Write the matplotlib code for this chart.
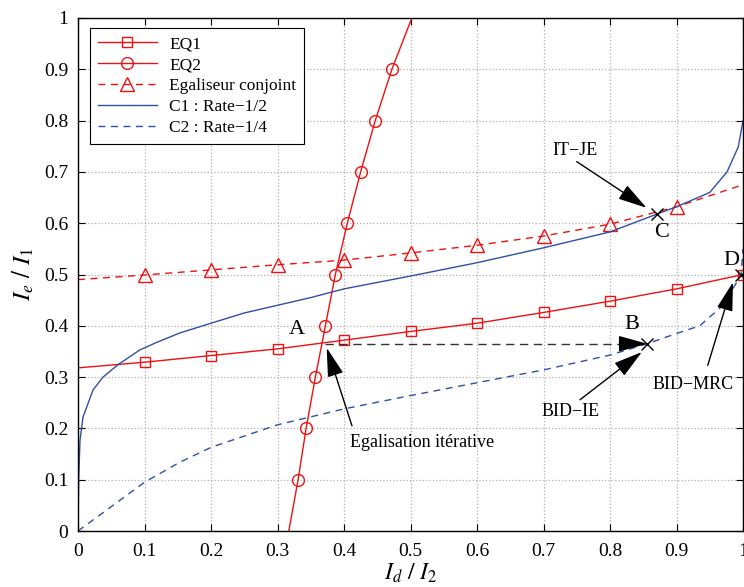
import matplotlib
matplotlib.use("Agg")
import matplotlib.pyplot as plt
import numpy as np

plt.rcParams['font.family'] = ['Liberation Serif', 'DejaVu Serif']
plt.rcParams['mathtext.fontset'] = 'stix'

# EQ1 (squares)
eq1_x = [0.0, 0.1, 0.2, 0.3, 0.4, 0.5, 0.6, 0.7, 0.8, 0.9, 1.0]
eq1_y = [0.318, 0.329, 0.342, 0.355, 0.372, 0.389, 0.405, 0.426, 0.448, 0.472, 0.500]

# EQ2 (circles)
eq2_x = [0.317, 0.331, 0.343, 0.357, 0.372, 0.387, 0.405, 0.425, 0.447, 0.472, 0.502]
eq2_y = [0.0, 0.1, 0.2, 0.3, 0.4, 0.5, 0.6, 0.7, 0.8, 0.9, 1.0]

# Egaliseur conjoint (triangles)
ej_x = [0.0, 0.1, 0.2, 0.3, 0.4, 0.5, 0.6, 0.7, 0.8, 0.9, 1.0]
ej_y = [0.490, 0.499, 0.509, 0.519, 0.528, 0.542, 0.557, 0.575, 0.598, 0.632, 0.675]

# C1 : Rate-1/2
c1_x = [0.0, 0.001, 0.003, 0.0075, 0.0226, 0.0376, 0.06, 0.093, 0.119, 0.153, 0.2, 0.25,
        0.3, 0.35, 0.4, 0.5, 0.6, 0.7, 0.8, 0.871, 0.9, 0.95, 0.976, 0.993, 1.0]
c1_y = [0.0, 0.10, 0.177, 0.222, 0.275, 0.300, 0.324, 0.353, 0.368, 0.386, 0.405, 0.425,
        0.440, 0.455, 0.472, 0.497, 0.523, 0.552, 0.583, 0.618, 0.632, 0.660, 0.700, 0.749, 0.80]

# C2 : Rate-1/4
c2_x = [0.0, 0.1, 0.153, 0.2, 0.3, 0.4, 0.5, 0.6, 0.7, 0.8, 0.856, 0.9, 0.935, 0.97, 0.997, 1.0]
c2_y = [0.0, 0.095, 0.134, 0.163, 0.207, 0.238, 0.264, 0.289, 0.314, 0.343, 0.365, 0.385, 0.400, 0.440, 0.499, 0.55]

# Points
pt_A = (0.372, 0.365)
pt_B = (0.856, 0.365)
pt_C = (0.871, 0.618)
pt_D = (0.997, 0.499)

red = '#f01010'
blue = '#2f4fa8'

fig = plt.figure(figsize=(7.44, 5.87), dpi=100)
ax = fig.add_axes([78/744, 1-531/587, 665/744, 513/587])

ax.plot(eq1_x, eq1_y, '-', color=red, lw=1.0, marker='s', ms=7, mfc='none', mec=red,
        mew=1.0, markevery=list(range(1, 11)), label='EQ1')
ax.plot(eq2_x, eq2_y, '-', color=red, lw=1.0, marker='o', ms=8.5, mfc='none', mec=red,
        mew=1.0, markevery=list(range(1, 10)), label='EQ2')
ax.plot(ej_x, ej_y, '--', color=red, lw=1.0, marker='^', ms=10, mfc='none', mec=red,
        mew=1.0, markevery=list(range(1, 10)), dashes=(5, 4), label='Egaliseur conjoint')
ax.plot(c1_x, c1_y, '-', color=blue, lw=1.0, label='C1 : Rate\u22121/2')
ax.plot(c2_x, c2_y, '--', color=blue, lw=1.0, dashes=(5, 4), label='C2 : Rate\u22121/4')

# dashed horizontal arrow A -> B
ax.plot([pt_A[0], pt_B[0] - 0.03], [pt_A[1], pt_B[1]], '--', color='#333333', lw=1.0, dashes=(6, 4))
ax.annotate('', xy=pt_B, xytext=(pt_B[0] - 0.04, pt_B[1]),
            arrowprops=dict(arrowstyle='-|>,head_length=0.9,head_width=0.25', color='black',
                            lw=1.0, mutation_scale=20, shrinkA=0, shrinkB=0))

for p in (pt_B, pt_C, pt_D):
    ax.plot(p[0], p[1], 'x', color='black', ms=8, mew=1.0)

ax.text(0.329, 0.392, 'A', fontsize=16, ha='center', va='center')
ax.text(0.833, 0.402, 'B', fontsize=16, ha='center', va='center')
ax.text(0.878, 0.582, 'C', fontsize=16, ha='center', va='center')
ax.text(0.983, 0.528, 'D', fontsize=16, ha='center', va='center')

arrow = dict(arrowstyle='-|>,head_length=0.9,head_width=0.25', color='black', lw=1.0,
             mutation_scale=20, shrinkA=0, shrinkB=0)
ax.annotate('', xy=(0.855, 0.630), xytext=(0.750, 0.720), arrowprops=arrow)
ax.text(0.747, 0.742, 'IT\u2212JE', fontsize=13, ha='center', va='center')
ax.annotate('', xy=(0.848, 0.349), xytext=(0.755, 0.256), arrowprops=arrow)
ax.text(0.740, 0.232, 'BID\u2212IE', fontsize=13, ha='center', va='center')
ax.annotate('', xy=(0.985, 0.485), xytext=(0.947, 0.323), arrowprops=arrow)
ax.text(0.925, 0.285, 'BID\u2212MRC', fontsize=13, ha='center', va='center')
ax.annotate('', xy=(0.374, 0.357), xytext=(0.412, 0.205), arrowprops=arrow)
ax.text(0.517, 0.172, 'Egalisation it\u00e9rative', fontsize=13, ha='center', va='center')

ax.set_xlim(0, 1)
ax.set_ylim(0, 1)
ticks = np.round(np.arange(0, 1.01, 0.1), 1)
labels = ['0'] + ['%.1f' % t for t in ticks[1:-1]] + ['1']
ax.set_xticks(ticks)
ax.set_xticklabels(labels)
ax.set_yticks(ticks)
ax.set_yticklabels(labels)
ax.tick_params(direction='in', top=True, right=True, labelsize=14, length=5, width=0.8)
ax.tick_params(axis='x', pad=9)
ax.tick_params(axis='y', pad=7)
ax.grid(True, linestyle=':', color='#b0b0b0', lw=0.9)
for s in ax.spines.values():
    s.set_linewidth(1.0)

ax.set_xlabel(r'$I_d\ /\ I_2$', fontsize=17, labelpad=1)
ax.set_ylabel(r'$I_e\ /\ I_1$', fontsize=18, labelpad=6)

leg = ax.legend(loc='upper left', bbox_to_anchor=(0.018, 0.98), borderaxespad=0,
                fontsize=12.5, handlelength=3.4, handletextpad=0.7, fancybox=False, framealpha=1,
                edgecolor='black', labelspacing=0.28, borderpad=0.45)
leg.get_frame().set_linewidth(0.8)

fig.savefig('out.png', dpi=100)
